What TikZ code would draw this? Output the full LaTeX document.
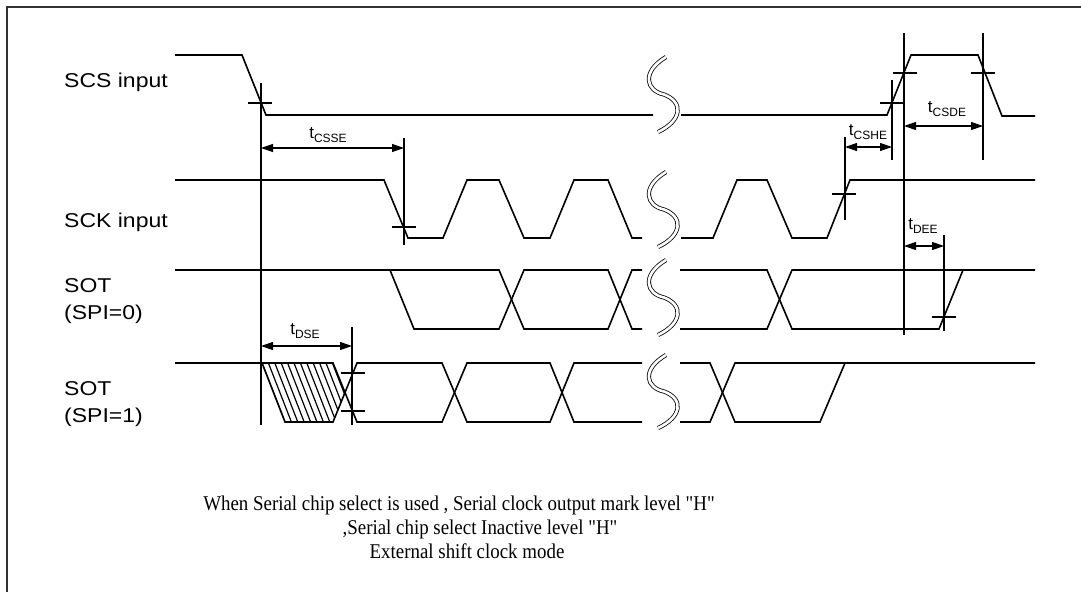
\documentclass[tikz,border=0pt]{standalone}
\usepackage{fontspec}
\setmainfont{Liberation Serif}
\newfontfamily\arial{Liberation Sans}
\usetikzlibrary{arrows.meta}
\newcommand{\tsub}[1]{t\raisebox{-0.35ex}{\fontsize{12}{12}\selectfont #1}}
\tikzset{
	wave/.style={line width=1.6pt},
	guide/.style={line width=1.1pt},
	span/.style={line width=1.1pt, {Triangle[length=12pt,width=8pt]}-{Triangle[length=12pt,width=8pt]}},
	sig/.style={font=\arial\fontsize{20}{20}\selectfont, anchor=base west, inner sep=0pt, xscale=1.15},
	tlabel/.style={font=\arial\fontsize{17}{17}\selectfont, inner sep=0pt},
	note/.style={font=\fontsize{21}{21}\selectfont, anchor=base, inner sep=0pt, xscale=0.9},
	brk/.style={double, double distance=2.6pt, line width=0.8pt},
}
\begin{document}
\begin{tikzpicture}[x=1pt, y=-1pt]
	\useasboundingbox (0, 0) rectangle (1081, 592);
	\draw[line width=2pt, black!80](7, 592) -- (7, 7) -- (1081, 7);

	%%signal names
	\node[sig] (scs) at (64, 87) {SCS input};
	\node[sig] (sck) at (64, 227) {SCK input};
	\node[sig] (sot0) at (64, 292) {SOT};
	\node[sig] (spi0) at (64, 319) {(SPI=0)};
	\node[sig] (sot1) at (64, 395) {SOT};
	\node[sig] (spi1) at (64, 422) {(SPI=1)};

	%%SCS
	\draw[wave](175, 55) -- (242, 55) -- (266, 115) -- (653, 115);
	\draw[wave](681, 115) -- (887, 115) -- (911, 55) -- (978, 55) -- (1002, 116) -- (1035, 116);

	%%SCK
	\draw[wave](175, 180) -- (384, 180) -- (408, 238) -- (443, 238) -- (467, 180) -- (499, 180)
		-- (524, 238) -- (550, 238) -- (574, 180) -- (608, 180) -- (632, 238) -- (642, 238);
	\draw[wave](681, 238) -- (713, 238) -- (737, 180) -- (767, 180) -- (792, 238) -- (827, 238)
		-- (850, 180) -- (1035, 180);

	%%SOT, SPI=0
	\draw[wave](175, 270) -- (499, 270) -- (524, 329) -- (608, 329) -- (632, 270) -- (642, 270);
	\draw[wave](390, 270) -- (414, 329) -- (499, 329) -- (524, 270) -- (608, 270) -- (632, 329) -- (642, 329);
	\draw[wave](680, 270) -- (767, 270) -- (792, 329) -- (939, 329) -- (963, 270);
	\draw[wave](680, 329) -- (767, 329) -- (792, 270) -- (1035, 270);

	%%SOT, SPI=1
	\begin{scope}
		\clip (262, 363) -- (333, 363) -- (345, 392) -- (333, 422) -- (285, 422) -- cycle;
		\foreach \k in {-1,...,13}
			\draw[line width=1.2pt](262+6.4*\k, 363) -- (285+6.4*\k, 422);
	\end{scope}
	\draw[wave](175, 363) -- (333, 363) -- (357, 422) -- (442, 422) -- (467, 363) -- (550, 363)
		-- (574, 422) -- (642, 422);
	\draw[wave](262, 363) -- (285, 422) -- (333, 422) -- (357, 363) -- (442, 363) -- (467, 422)
		-- (550, 422) -- (574, 363) -- (642, 363);
	\draw[wave](680, 363) -- (710, 363) -- (735, 422) -- (820, 422) -- (845, 363);
	\draw[wave](680, 422) -- (710, 422) -- (735, 363) -- (1035, 363);

	%%breaks
	\foreach \t/\b in {57/132, 172/247, 260/335, 355/428}
		\draw[brk](666, \t) .. controls (641, \t+0.2*\b-0.2*\t) and (646, 0.55*\t+0.45*\b) .. (664, 0.5*\t+0.5*\b)
			.. controls (684, 0.4*\t+0.6*\b) and (682, 0.15*\t+0.85*\b) .. (658, \b);

	%%guide lines
	\draw[guide](261, 83) -- (261, 425);
	\draw[guide](404, 138) -- (404, 245);
	\draw[guide](845, 137) -- (845, 220);
	\draw[guide](892, 80) -- (892, 160);
	\draw[guide](904, 33) -- (904, 335);
	\draw[guide](983, 33) -- (983, 160);
	\draw[guide](944, 235) -- (944, 331);
	\draw[guide](352, 327) -- (352, 425);

	%%level marks
	\draw[guide](248, 103) -- (272, 103);
	\draw[guide](392, 227) -- (416, 227);
	\draw[guide](832, 194) -- (856, 194);
	\draw[guide](880, 103) -- (904, 103);
	\draw[guide](893, 73) -- (917, 73);
	\draw[guide](971, 73) -- (995, 73);
	\draw[guide](932, 317) -- (956, 317);
	\draw[guide](341, 373) -- (365, 373);
	\draw[guide](341, 411) -- (365, 411);

	%%timings
	\coordinate (csseA) at (261, 148); \coordinate (csseB) at (404, 148);
	\draw[span](csseA) -- (csseB);
	\node[tlabel] (tcsse) at (328, 135) {\tsub{CSSE}};
	\coordinate (csheA) at (845, 147); \coordinate (csheB) at (892, 147);
	\draw[span](csheA) -- (csheB);
	\node[tlabel] (tcshe) at (868, 132) {\tsub{CSHE}};
	\coordinate (csdeA) at (904, 126); \coordinate (csdeB) at (983, 126);
	\draw[span](csdeA) -- (csdeB);
	\node[tlabel] (tcsde) at (947, 109) {\tsub{CSDE}};
	\coordinate (deeA) at (904, 246); \coordinate (deeB) at (944, 246);
	\draw[span](deeA) -- (deeB);
	\node[tlabel] (tdee) at (923, 226) {\tsub{DEE}};
	\coordinate (dseA) at (261, 346); \coordinate (dseB) at (352, 346);
	\draw[span](dseA) -- (dseB);
	\node[tlabel] (tdse) at (305, 331) {\tsub{DSE}};

	%%note
	\node[note] (note1) at (459, 510) {When Serial chip select is used , Serial clock output mark level \textquotedbl H\textquotedbl};
	\node[note] (note2) at (480, 534) {,Serial chip select Inactive level \textquotedbl H\textquotedbl};
	\node[note] (note3) at (467, 558) {External shift clock mode};
\end{tikzpicture}
\end{document}
